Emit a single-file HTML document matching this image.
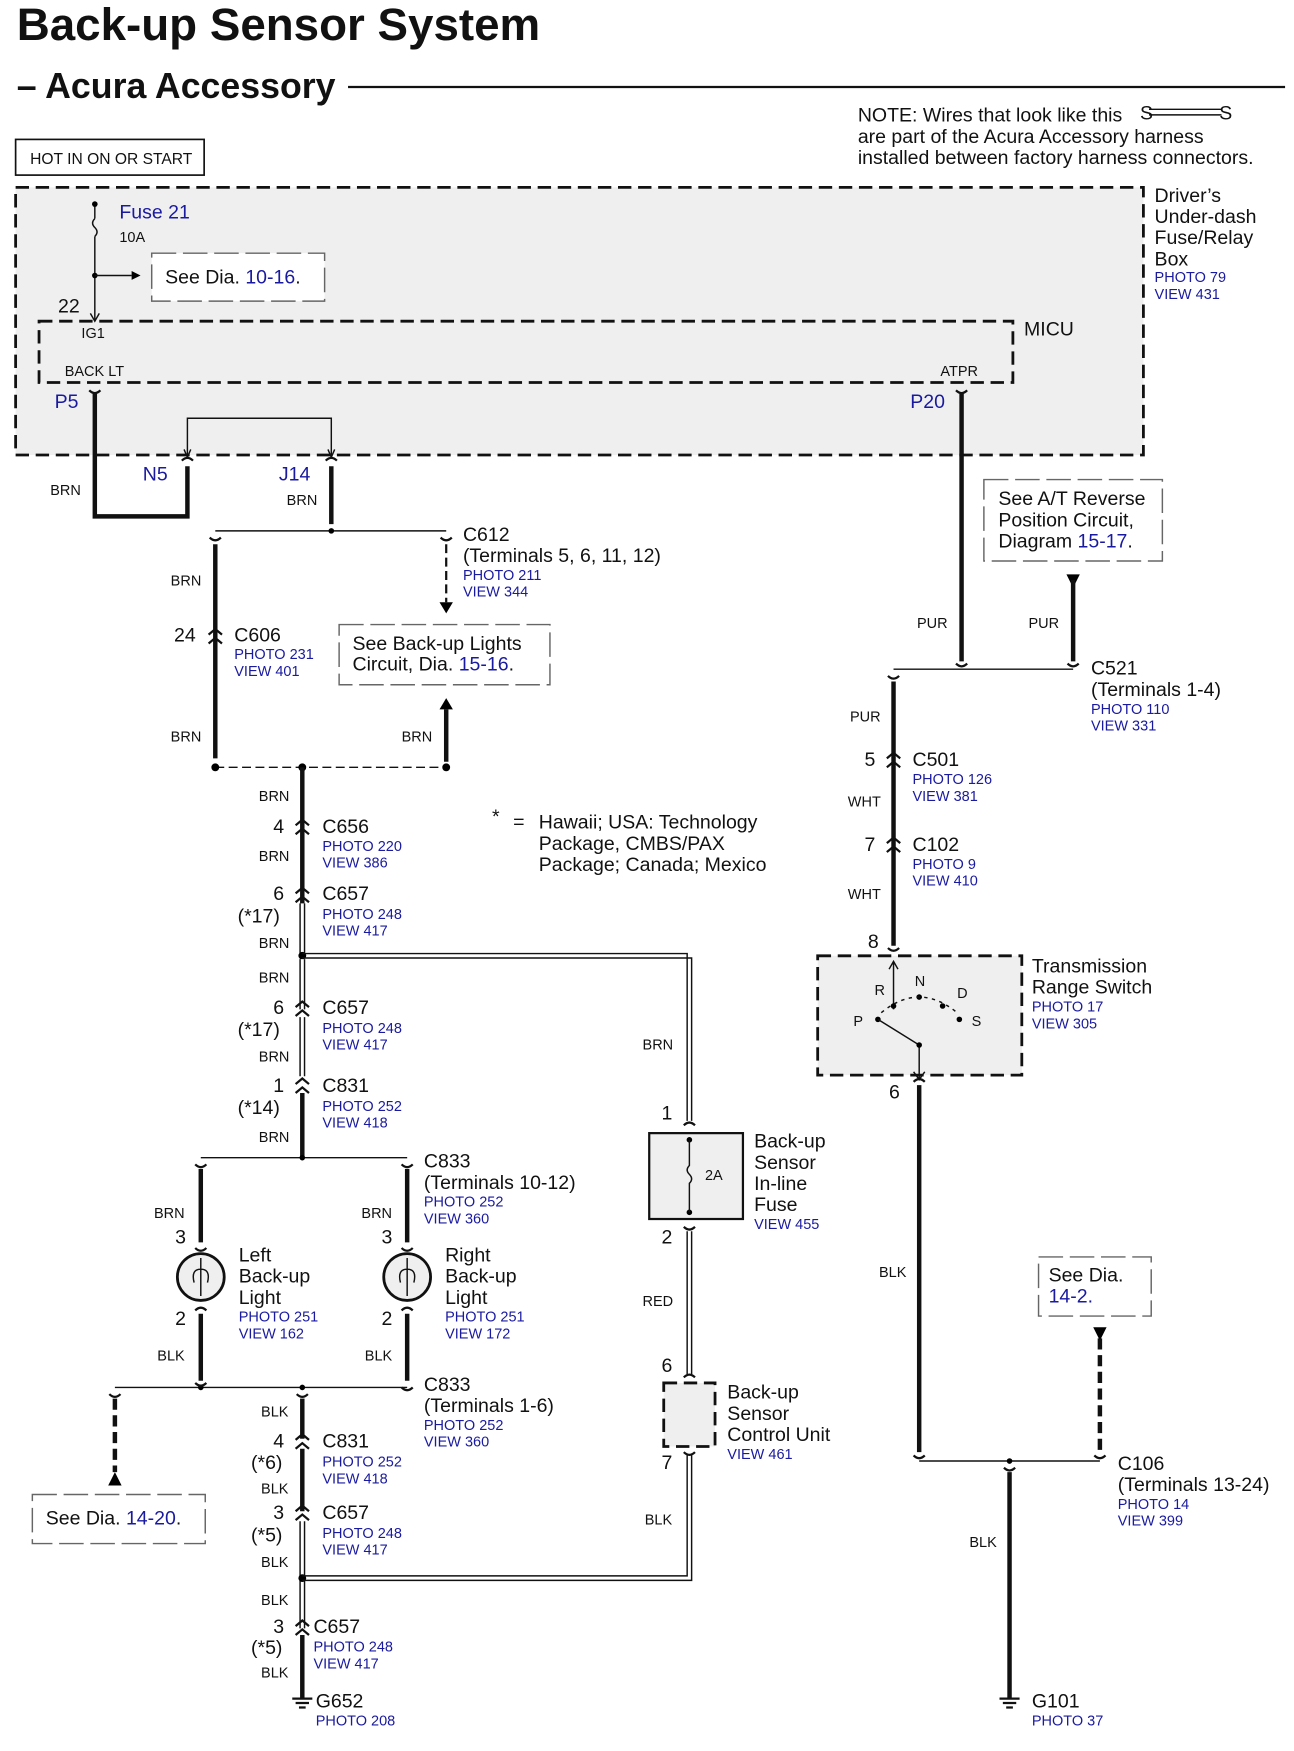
<!DOCTYPE html>
<html><head><meta charset="utf-8"><style>
html,body{margin:0;padding:0;background:#fff}
svg{display:block}
text{font-family:"Liberation Sans",sans-serif;fill:#111}
.t{font-size:17.5px}
.s{font-size:13px}
.b{fill:#1a1aa0;font-size:13px}
.bl{fill:#1a1aa0;font-size:17.5px}
.w{stroke:#111;stroke-width:4;fill:none}
.n{stroke:#111;stroke-width:1.3;fill:none}
.c{stroke:#111;stroke-width:2;fill:none}
.d{stroke:#111;stroke-width:2.5;fill:#efefef;stroke-dasharray:12 6}
.dt{stroke:#666;stroke-width:1.3;fill:#fff;stroke-dasharray:22 6}
</style></head><body>
<svg width="1294" height="1751" viewBox="0 0 1160 1570" preserveAspectRatio="none" xmlns="http://www.w3.org/2000/svg">
<defs>
<g id="cn"><path d="M-6,-3 L0,-8 L6,-3 M-6,5 L0,0 L6,5" class="c"/></g>
<g id="pin"><path d="M-5,-3 Q0,-8 5,-3" class="c"/></g>
<g id="pinb"><path d="M-5,3 Q0,8 5,3" class="c"/></g>
</defs>
<text x="15" y="36" style="font-size:41px;font-weight:bold">Back-up Sensor System</text>
<text x="15" y="88" style="font-size:32px;font-weight:bold">– Acura Accessory</text>
<line x1="312" y1="78" x2="1152" y2="78" stroke="#111" stroke-width="2"/>
<text x="769" y="109" class="t">NOTE: Wires that look like this</text>
<path d="M1030,98 L1095,98 M1030,103 L1095,103" class="n"/>
<text x="1022" y="107" class="t">S</text><text x="1093" y="107" class="t">S</text>
<text x="769" y="128" class="t">are part of the Acura Accessory harness</text>
<text x="769" y="147" class="t">installed between factory harness connectors.</text>
<rect x="14" y="125" width="169" height="32" fill="#fff" stroke="#111" stroke-width="1.5"/>
<text x="27" y="147" class="s" style="font-size:14px">HOT IN ON OR START</text>
<rect x="14" y="168" width="1011" height="240" class="d"/>
<text x="1035" y="181" class="t">Driver’s</text><text x="1035" y="200" class="t">Under-dash</text><text x="1035" y="219" class="t">Fuse/Relay</text><text x="1035" y="238" class="t">Box</text>
<text x="1035" y="253" class="b">PHOTO 79</text><text x="1035" y="268" class="b">VIEW 431</text>
<line x1="85" y1="183" x2="85" y2="196" class="n"/>
<path d="M85,196 q-4,4 0,8 q4,4 0,8" class="n"/>
<line x1="85" y1="212" x2="85" y2="288" class="n"/>
<circle cx="85" cy="183" r="2.5"/><circle cx="85" cy="247" r="2.5"/>
<text x="107" y="196" class="bl">Fuse 21</text><text x="107" y="217" class="s">10A</text>
<line x1="85" y1="247" x2="118" y2="247" class="n"/><path d="M118,243 L126,247 L118,251 Z"/>
<rect x="136" y="227" width="155" height="43" class="dt"/>
<text x="148" y="254" class="t">See  Dia. <tspan fill="#1a1aa0">10-16</tspan>.</text>
<text x="52" y="280" class="t">22</text>
<path d="M81,281 L85,288 L89,281" class="n"/>
<rect x="35" y="288" width="873" height="55" fill="none" stroke="#111" stroke-width="2.5" stroke-dasharray="12 6"/>
<text x="918" y="301" class="t">MICU</text>
<text x="73" y="303" class="s">IG1</text>
<text x="58" y="337" class="s">BACK LT</text><text x="843" y="337" class="s">ATPR</text>
<text x="49" y="366" class="bl">P5</text><text x="816" y="366" class="bl">P20</text>
<use href="#pinb" x="85" y="347"/><use href="#pinb" x="862" y="347"/>
<path d="M85,352 L85,463 L168,463 L168,418" class="w"/>
<use href="#pin" x="168" y="416"/>
<path d="M168,410 L168,375 L297,375 L297,410" class="n"/>
<path d="M165,403 L168,410 L171,403 M294,403 L297,410 L300,403" class="n"/>
<text x="128" y="431" class="bl">N5</text><text x="250" y="431" class="bl">J14</text>
<text x="45" y="444" class="s">BRN</text><text x="257" y="453" class="s">BRN</text>
<use href="#pin" x="297" y="416"/>
<line x1="297" y1="418" x2="297" y2="470" class="w"/>
<line x1="193" y1="476" x2="400" y2="476" class="n"/><circle cx="297" cy="476" r="2.5"/>
<use href="#pinb" x="193" y="479"/><use href="#pinb" x="400" y="479"/>
<line x1="193" y1="488" x2="193" y2="680" class="w"/>
<text x="415" y="485" class="t">C612</text><text x="415" y="504" class="t">(Terminals 5, 6, 11, 12)</text>
<text x="415" y="520" class="b">PHOTO 211</text><text x="415" y="535" class="b">VIEW 344</text>
<line x1="400" y1="488" x2="400" y2="540" class="c" stroke-dasharray="8 4"/><path d="M394,540 L400,550 L406,540 Z"/>
<text x="153" y="525" class="s">BRN</text>
<text x="156" y="575" class="t">24</text><use href="#cn" x="193" y="572"/>
<text x="210" y="575" class="t">C606</text><text x="210" y="591" class="b">PHOTO 231</text><text x="210" y="606" class="b">VIEW 401</text>
<rect x="304" y="560" width="189" height="54" class="dt"/>
<text x="316" y="583" class="t">See Back-up Lights</text><text x="316" y="601" class="t">Circuit,  Dia.  <tspan fill="#1a1aa0">15-16</tspan>.</text>
<path d="M394,636 L400,626 L406,636 Z"/><line x1="400" y1="636" x2="400" y2="683" class="w"/>
<text x="153" y="665" class="s">BRN</text><text x="360" y="665" class="s">BRN</text>
<line x1="193" y1="688" x2="400" y2="688" class="n" stroke-dasharray="8 4"/>
<circle cx="193" cy="688" r="3.5"/><circle cx="271" cy="688" r="3.5"/><circle cx="400" cy="688" r="3.5"/>
<path d="M271,688 L271,852" class="w"/>
<text x="232" y="718" class="s">BRN</text>
<text x="245" y="747" class="t">4</text><use href="#cn" x="271" y="743"/>
<text x="289" y="747" class="t">C656</text><text x="289" y="763" class="b">PHOTO 220</text><text x="289" y="778" class="b">VIEW 386</text>
<text x="232" y="772" class="s">BRN</text>
<text x="245" y="807" class="t">6</text><use href="#cn" x="271" y="804"/>
<text x="213" y="827" class="t">(*17)</text>
<text x="289" y="807" class="t">C657</text><text x="289" y="824" class="b">PHOTO 248</text><text x="289" y="839" class="b">VIEW 417</text>
<text x="232" y="850" class="s">BRN</text>
<rect x="268" y="810" width="6" height="45" fill="#fff"/><path d="M269,810 L269,855 M273,810 L273,855" class="n"/>
<circle cx="271" cy="857" r="3.5"/>
<path d="M271,855 L616,855 L616,1005 M271,859 L620,859 L620,1005" class="n"/>
<rect x="268" y="860" width="6" height="50" fill="#fff"/><path d="M269,860 L269,905 M273,860 L273,905" class="n"/>
<text x="232" y="881" class="s">BRN</text>
<text x="245" y="909" class="t">6</text><use href="#cn" x="271" y="906"/>
<text x="213" y="929" class="t">(*17)</text>
<text x="289" y="909" class="t">C657</text><text x="289" y="926" class="b">PHOTO 248</text><text x="289" y="941" class="b">VIEW 417</text>
<path d="M269,912 L269,965 M273,912 L273,965" class="n"/>
<text x="232" y="952" class="s">BRN</text>
<text x="245" y="979" class="t">1</text><use href="#cn" x="271" y="975"/>
<text x="213" y="999" class="t">(*14)</text>
<text x="289" y="979" class="t">C831</text><text x="289" y="996" class="b">PHOTO 252</text><text x="289" y="1011" class="b">VIEW 418</text>
<line x1="271" y1="980" x2="271" y2="1038" class="w"/>
<text x="232" y="1024" class="s">BRN</text>
<line x1="180" y1="1038" x2="365" y2="1038" class="n"/><circle cx="271" cy="1038" r="2.5"/>
<use href="#pinb" x="180" y="1041"/><use href="#pinb" x="365" y="1041"/>
<text x="380" y="1047" class="t">C833</text><text x="380" y="1066" class="t">(Terminals 10-12)</text>
<text x="380" y="1082" class="b">PHOTO 252</text><text x="380" y="1097" class="b">VIEW 360</text>
<path d="M180,1048 L180,1114 M365,1048 L365,1114" class="w"/>
<text x="138" y="1092" class="s">BRN</text><text x="324" y="1092" class="s">BRN</text>
<text x="157" y="1115" class="t">3</text><text x="342" y="1115" class="t">3</text>
<use href="#pinb" x="180" y="1116"/><use href="#pinb" x="365" y="1116"/>
<circle cx="180" cy="1145" r="21" fill="#efefef" stroke="#111" stroke-width="2.5"/>
<circle cx="365" cy="1145" r="21" fill="#efefef" stroke="#111" stroke-width="2.5"/>
<path d="M180,1128 L180,1162 M174,1150 q-3,-12 6,-12 q9,0 6,12 M359,1150 q-3,-12 6,-12 q9,0 6,12 M365,1128 L365,1162" class="n"/>
<text x="214" y="1131" class="t">Left</text><text x="214" y="1150" class="t">Back-up</text><text x="214" y="1169" class="t">Light</text>
<text x="214" y="1185" class="b">PHOTO 251</text><text x="214" y="1200" class="b">VIEW 162</text>
<text x="399" y="1131" class="t">Right</text><text x="399" y="1150" class="t">Back-up</text><text x="399" y="1169" class="t">Light</text>
<text x="399" y="1185" class="b">PHOTO 251</text><text x="399" y="1200" class="b">VIEW 172</text>
<text x="157" y="1188" class="t">2</text><text x="342" y="1188" class="t">2</text>
<use href="#pin" x="180" y="1178"/><use href="#pin" x="365" y="1178"/>
<path d="M180,1178 L180,1238 M365,1178 L365,1238" class="w"/>
<text x="141" y="1220" class="s">BLK</text><text x="327" y="1220" class="s">BLK</text>
<line x1="103" y1="1244" x2="365" y2="1244" class="n"/>
<circle cx="180" cy="1244" r="2.5"/><circle cx="271" cy="1244" r="2.5"/>
<use href="#pinb" x="103" y="1247"/><use href="#pinb" x="365" y="1241"/><use href="#pinb" x="180" y="1237"/><use href="#pinb" x="271" y="1247"/>
<text x="380" y="1247" class="t">C833</text><text x="380" y="1266" class="t">(Terminals 1-6)</text>
<text x="380" y="1282" class="b">PHOTO 252</text><text x="380" y="1297" class="b">VIEW 360</text>
<line x1="103" y1="1254" x2="103" y2="1320" class="w" stroke-dasharray="10 5"/>
<path d="M97,1332 L103,1320 L109,1332 Z"/>
<rect x="29" y="1340" width="155" height="44" class="dt"/>
<text x="41" y="1367" class="t">See  Dia.  <tspan fill="#1a1aa0">14-20</tspan>.</text>
<line x1="271" y1="1254" x2="271" y2="1290" class="w"/>
<text x="234" y="1270" class="s">BLK</text>
<text x="245" y="1298" class="t">4</text><use href="#cn" x="271" y="1294"/>
<text x="225" y="1317" class="t">(*6)</text>
<text x="289" y="1298" class="t">C831</text><text x="289" y="1315" class="b">PHOTO 252</text><text x="289" y="1330" class="b">VIEW 418</text>
<line x1="271" y1="1299" x2="271" y2="1355" class="w"/>
<text x="234" y="1339" class="s">BLK</text>
<text x="245" y="1362" class="t">3</text><use href="#cn" x="271" y="1358"/>
<text x="225" y="1382" class="t">(*5)</text>
<text x="289" y="1362" class="t">C657</text><text x="289" y="1379" class="b">PHOTO 248</text><text x="289" y="1394" class="b">VIEW 417</text>
<path d="M269,1364 L269,1460 M273,1364 L273,1460" class="n"/>
<text x="234" y="1405" class="s">BLK</text>
<circle cx="271" cy="1415" r="3.5"/>
<path d="M271,1413 L616,1413 L616,1305 M271,1417 L620,1417 L620,1305" class="n"/>
<text x="234" y="1439" class="s">BLK</text>
<text x="245" y="1464" class="t">3</text><use href="#cn" x="271" y="1461"/>
<text x="225" y="1483" class="t">(*5)</text>
<text x="281" y="1464" class="t">C657</text><text x="281" y="1481" class="b">PHOTO 248</text><text x="281" y="1496" class="b">VIEW 417</text>
<line x1="271" y1="1466" x2="271" y2="1522" class="w"/>
<text x="234" y="1504" class="s">BLK</text>
<path d="M262,1523 L280,1523 M265,1527 L277,1527 M268,1531 L274,1531" class="c"/>
<text x="283" y="1531" class="t">G652</text><text x="283" y="1547" class="b">PHOTO 208</text>
<text x="441" y="738" class="t">*</text><text x="460" y="743" class="t">=</text>
<text x="483" y="743" class="t">Hawaii; USA: Technology</text><text x="483" y="762" class="t">Package, CMBS/PAX</text><text x="483" y="781" class="t">Package; Canada; Mexico</text>
<text x="576" y="941" class="s">BRN</text>
<text x="593" y="1004" class="t">1</text>
<use href="#pin" x="618" y="1012"/>
<rect x="582" y="1016" width="84" height="77" fill="#efefef" stroke="#111" stroke-width="2"/>
<circle cx="618" cy="1022" r="2.5"/><circle cx="618" cy="1087" r="2.5"/>
<path d="M618,1022 L618,1045 q-4,4 0,8 q4,4 0,8 L618,1087" class="n"/>
<text x="632" y="1058" class="s">2A</text>
<text x="676" y="1029" class="t">Back-up</text><text x="676" y="1048" class="t">Sensor</text><text x="676" y="1067" class="t">In-line</text><text x="676" y="1086" class="t">Fuse</text>
<text x="676" y="1102" class="b">VIEW 455</text>
<text x="593" y="1115" class="t">2</text><use href="#pinb" x="618" y="1097"/>
<path d="M616,1104 L616,1232 M620,1104 L620,1232" class="n"/>
<text x="576" y="1171" class="s">RED</text>
<text x="593" y="1230" class="t">6</text><use href="#pin" x="618" y="1238"/>
<rect x="595" y="1240" width="46" height="57" class="d"/>
<text x="652" y="1254" class="t">Back-up</text><text x="652" y="1273" class="t">Sensor</text><text x="652" y="1292" class="t">Control Unit</text>
<text x="652" y="1308" class="b">VIEW 461</text>
<text x="593" y="1317" class="t">7</text><use href="#pinb" x="618" y="1299"/>
<text x="578" y="1367" class="s">BLK</text>
<line x1="862" y1="352" x2="862" y2="593" class="w"/>
<text x="822" y="563" class="s">PUR</text>
<rect x="882" y="430" width="160" height="73" class="dt"/>
<text x="895" y="453" class="t">See A/T Reverse</text><text x="895" y="472" class="t">Position Circuit,</text><text x="895" y="491" class="t">Diagram <tspan fill="#1a1aa0">15-17</tspan>.</text>
<path d="M956,515 L962,527 L968,515 Z"/>
<line x1="962" y1="520" x2="962" y2="593" class="w"/>
<text x="922" y="563" class="s">PUR</text>
<line x1="801" y1="600" x2="962" y2="600" class="n"/>
<use href="#pinb" x="862" y="592"/><use href="#pinb" x="962" y="592"/><use href="#pinb" x="801" y="603"/>
<text x="978" y="605" class="t">C521</text><text x="978" y="624" class="t">(Terminals 1-4)</text>
<text x="978" y="640" class="b">PHOTO 110</text><text x="978" y="655" class="b">VIEW 331</text>
<line x1="801" y1="611" x2="801" y2="848" class="w"/>
<text x="762" y="647" class="s">PUR</text>
<text x="775" y="687" class="t">5</text><use href="#cn" x="801" y="683"/>
<text x="818" y="687" class="t">C501</text><text x="818" y="703" class="b">PHOTO 126</text><text x="818" y="718" class="b">VIEW 381</text>
<text x="760" y="723" class="s">WHT</text>
<text x="775" y="763" class="t">7</text><use href="#cn" x="801" y="759"/>
<text x="818" y="763" class="t">C102</text><text x="818" y="779" class="b">PHOTO 9</text><text x="818" y="794" class="b">VIEW 410</text>
<text x="760" y="806" class="s">WHT</text>
<text x="778" y="850" class="t">8</text><use href="#pinb" x="801" y="847"/>
<rect x="733" y="857" width="183" height="107" class="d"/>
<path d="M801,862 L801,905 M797,869 L801,862 L805,869" class="n"/>
<text x="784" y="892" class="s">R</text><text x="820" y="884" class="s">N</text><text x="858" y="895" class="s">D</text><text x="765" y="920" class="s">P</text><text x="871" y="920" class="s">S</text>
<circle cx="787" cy="914" r="2.5"/><circle cx="801" cy="902" r="2.5"/><circle cx="824" cy="894" r="2.5"/><circle cx="845" cy="902" r="2.5"/><circle cx="860" cy="914" r="2.5"/>
<path d="M787,914 L824,937 L824,968 M819,961 L824,968 L829,961" class="n"/><circle cx="824" cy="937" r="2.5"/>
<path d="M790,908 Q824,880 858,908" class="n" stroke-dasharray="3 4"/>
<text x="925" y="872" class="t">Transmission</text><text x="925" y="891" class="t">Range Switch</text>
<text x="925" y="907" class="b">PHOTO 17</text><text x="925" y="922" class="b">VIEW 305</text>
<text x="797" y="985" class="t">6</text><use href="#pin" x="824" y="973"/>
<line x1="824" y1="973" x2="824" y2="1302" class="w"/>
<text x="788" y="1145" class="s">BLK</text>
<rect x="931" y="1127" width="101" height="53" class="dt"/>
<text x="940" y="1149" class="t">See  Dia.</text><text x="940" y="1168" class="bl">14-2.</text>
<path d="M980,1190 L986,1202 L992,1190 Z"/>
<line x1="986" y1="1200" x2="986" y2="1302" class="w" stroke-dasharray="10 5"/>
<line x1="824" y1="1310" x2="986" y2="1310" class="n"/><circle cx="905" cy="1310" r="2.5"/>
<use href="#pinb" x="824" y="1302"/><use href="#pinb" x="986" y="1302"/><use href="#pinb" x="905" y="1313"/>
<text x="1002" y="1318" class="t">C106</text><text x="1002" y="1337" class="t">(Terminals 13-24)</text>
<text x="1002" y="1353" class="b">PHOTO 14</text><text x="1002" y="1368" class="b">VIEW 399</text>
<line x1="905" y1="1320" x2="905" y2="1522" class="w"/>
<text x="869" y="1387" class="s">BLK</text>
<path d="M896,1523 L914,1523 M899,1527 L911,1527 M902,1531 L908,1531" class="c"/>
<text x="925" y="1531" class="t">G101</text><text x="925" y="1547" class="b">PHOTO 37</text>
</svg>
</body></html>
